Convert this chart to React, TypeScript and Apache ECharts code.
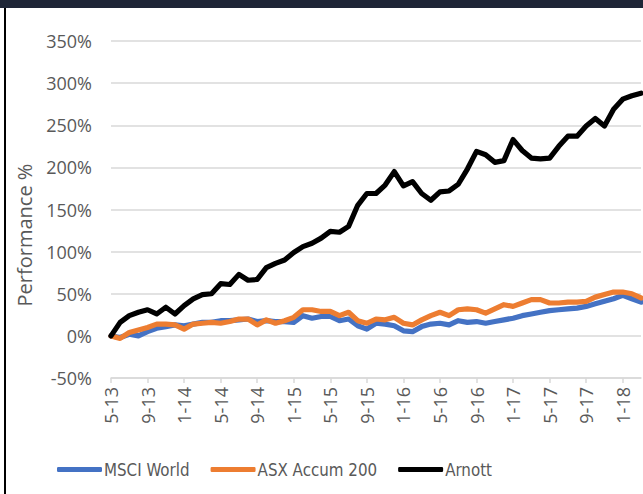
import React, { useEffect, useRef } from "react";
import * as echarts from "echarts";

const categories: string[] = [
  "5-13", "6-13", "7-13", "8-13", "9-13", "10-13", "11-13", "12-13",
  "1-14", "2-14", "3-14", "4-14", "5-14", "6-14", "7-14", "8-14", "9-14", "10-14", "11-14", "12-14",
  "1-15", "2-15", "3-15", "4-15", "5-15", "6-15", "7-15", "8-15", "9-15", "10-15", "11-15", "12-15",
  "1-16", "2-16", "3-16", "4-16", "5-16", "6-16", "7-16", "8-16", "9-16", "10-16", "11-16", "12-16",
  "1-17", "2-17", "3-17", "4-17", "5-17", "6-17", "7-17", "8-17", "9-17", "10-17", "11-17", "12-17",
  "1-18", "2-18", "3-18",
];

const msciWorld: number[] = [
  0, -2, 2, 0, 5, 9, 11, 13, 12, 14, 16, 16, 18, 18, 19, 20, 17, 18, 17, 17,
  16, 24, 21, 23, 23, 18, 20, 12, 8, 15, 14, 12, 6, 5, 11, 14, 15, 13, 18, 16,
  17, 15, 17, 19, 21, 24, 26, 28, 30, 31, 32, 33, 35, 38, 41, 44, 48, 44, 40,
];

const asxAccum200: number[] = [
  0, -3, 4, 7, 10, 14, 14, 13, 8, 14, 15, 16, 15, 17, 20, 20, 13, 19, 15, 18,
  22, 31, 31, 29, 29, 24, 28, 18, 15, 20, 19, 22, 15, 13, 19, 24, 28, 24, 31, 32,
  31, 27, 32, 37, 35, 39, 43, 43, 39, 39, 40, 40, 41, 46, 49, 52, 52, 50, 45,
];

const arnott: number[] = [
  0, 16, 24, 28, 31, 26, 34, 26, 36, 44, 49, 50, 62, 61, 73, 66, 67, 81, 86, 90,
  99, 106, 110, 116, 124, 123, 130, 155, 169, 169, 179, 195, 178, 183, 169, 161, 171, 172, 180, 198,
  219, 215, 206, 208, 233, 220, 211, 210, 211, 225, 237, 237, 249, 258, 249, 269, 281, 285, 288,
];

const seriesNames: string[] = ["MSCI World", "ASX Accum 200", "Arnott"];
const seriesColors: string[] = ["#4472C4", "#ED7D31", "#000000"];
const yTitle = "Performance %";

export default function App() {
  const ref = useRef<HTMLDivElement>(null);
  useEffect(() => {
    document.body.style.margin = "0";
    if (!ref.current) return;
    const chart = echarts.init(ref.current, undefined, { renderer: "svg" });
    const axisFont = "'Open Sans', sans-serif";
    const legendFont = "'DejaVu Sans Condensed', 'Liberation Sans Narrow', 'Liberation Sans', sans-serif";
    const data = [msciWorld, asxAccum200, arnott];
    chart.setOption({
      animation: false,
      backgroundColor: "#ffffff",
      grid: { left: 111, right: 2, top: 41, bottom: 116, containLabel: false },
      graphic: [
        { type: "rect", shape: { x: 0, y: 0, width: 643, height: 8 }, style: { fill: "#1f2637" }, z: 10 },
        { type: "rect", shape: { x: 4, y: 8, width: 2, height: 486 }, style: { fill: "#000000" }, z: 10 },
        {
          type: "text",
          x: 24,
          y: 235,
          rotation: Math.PI / 2,
          style: {
            text: yTitle,
            font: "20px 'Open Sans', sans-serif",
            fill: "#595959",
            align: "center",
            verticalAlign: "middle",
          },
        },
      ],
      legend: {
        left: 52,
        top: 456,
        icon: "roundRect",
        itemWidth: 45,
        itemHeight: 5,
        itemGap: 21,
        data: seriesNames,
        textStyle: { fontFamily: legendFont, fontSize: 16.8, color: "#595959", padding: [0, 0, 0, -3] },
      },
      xAxis: {
        type: "category",
        data: categories,
        boundaryGap: false,
        axisLine: { onZero: false, lineStyle: { color: "#d9d9d9", width: 1.5 } },
        axisTick: { interval: 3, length: 5, lineStyle: { color: "#d9d9d9", width: 1.5 } },
        axisLabel: {
          interval: 3,
          rotate: 90,
          margin: 9,
          fontFamily: axisFont,
          fontSize: 18,
          color: "#595959",
        },
        splitLine: { show: false },
      },
      yAxis: {
        type: "value",
        min: -50,
        max: 350,
        interval: 50,
        axisLine: { show: false },
        axisTick: { show: false },
        axisLabel: {
          formatter: "{value}%",
          margin: 19,
          fontFamily: axisFont,
          fontSize: 18,
          color: "#595959",
        },
        splitLine: { lineStyle: { color: "#d9d9d9", width: 1.5 } },
      },
      series: seriesNames.map((name, k) => ({
        name,
        type: "line",
        data: data[k],
        symbol: "none",
        color: seriesColors[k],
        lineStyle: { width: 5.2, color: seriesColors[k], join: "round", cap: "round" },
        z: 2 + k,
      })),
    });
    return () => chart.dispose();
  }, []);
  return (
    <div
      ref={ref}
      style={{ position: "fixed", left: 0, top: 0, width: 643, height: 494 }}
    />
  );
}
